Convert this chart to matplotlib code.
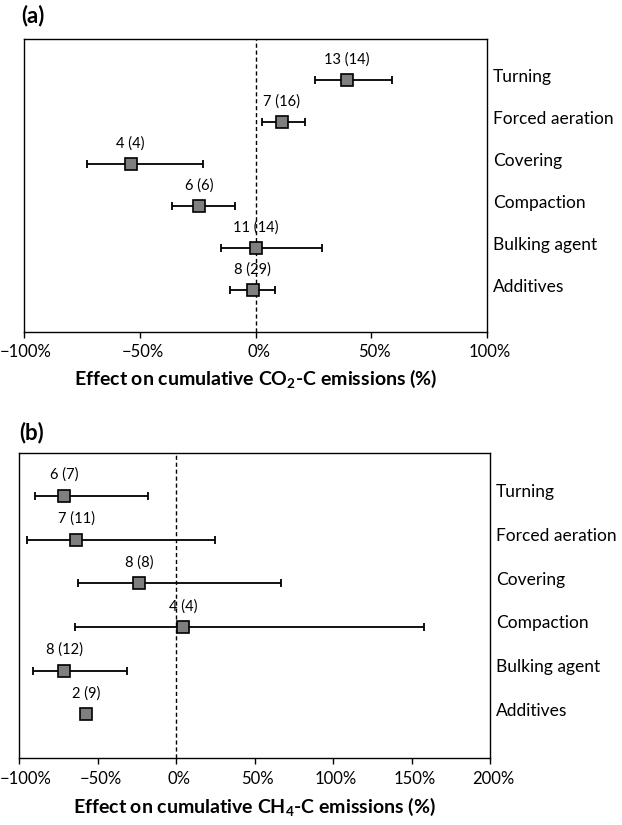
import numpy as np
import matplotlib.pyplot as plt
import matplotlib.transforms as mtransforms

plt.rcParams['font.family'] = ['Lato', 'DejaVu Sans']
plt.rcParams['mathtext.fontset'] = 'custom'
plt.rcParams['mathtext.rm'] = 'Lato'
plt.rcParams['mathtext.bf'] = 'Lato:bold'

cats = ['Turning', 'Forced aeration', 'Covering', 'Compaction', 'Bulking agent', 'Additives']

# panel (a) CO2-C
co2_mean = [39.6, 11.3, -53.9, -24.5, 0.0, -1.2]
co2_lo = [25.5, 2.7, -72.6, -36.0, -15.1, -11.1]
co2_hi = [58.9, 21.2, -22.8, -8.7, 28.8, 8.4]
co2_n = ['13 (14)', '7 (16)', '4 (4)', '6 (6)', '11 (14)', '8 (29)']

# panel (b) CH4-C
ch4_mean = [-71.3, -63.4, -23.6, 4.7, -71.1, -57.3]
ch4_lo = [-89.6, -95.0, -62.4, -64.5, -91.3, np.nan]
ch4_hi = [-17.9, 24.7, 66.8, 157.9, -31.3, np.nan]
ch4_n = ['6 (7)', '7 (11)', '8 (8)', '4 (4)', '8 (12)', '2 (9)']


def panel(ax, mean, lo, hi, nlab, xlim, xticks, xlabel, lab_y, first_shift):
    mean = np.array(mean)
    lo = np.array(lo)
    hi = np.array(hi)
    y = np.arange(len(cats), 0, -1)
    ok = ~np.isnan(lo)
    ax.axvline(0, color='black', ls=(0, (3, 2)), lw=1, zorder=1)
    ax.errorbar(mean[ok], y[ok], xerr=[mean[ok] - lo[ok], hi[ok] - mean[ok]],
                fmt='none', ecolor='black', elinewidth=1.3, capsize=3, capthick=1.3, zorder=2)
    ax.plot(mean, y, 's', ms=8, mfc='#7f7f7f', mec='black', mew=1.2, zorder=3)
    for m, yy, t in zip(mean, y, nlab):
        ax.annotate(t, (m, yy), xytext=(0, 15), textcoords='offset points',
                    ha='center', va='center', fontsize=10.5)
    trans = mtransforms.blended_transform_factory(ax.transAxes, ax.transData)
    for yy, c in zip(y, cats):
        ax.text(1.013, yy + 0.08, c, transform=trans, ha='left', va='center', fontsize=12.5)
    ax.set_xlim(xlim)
    ax.set_ylim(0.0, 6.98)
    ax.set_xticks(xticks)
    ax.set_xticklabels([f'{v:d}%'.replace('-', '\u2212') for v in xticks], fontsize=12)
    ax.set_yticks([])
    ax.tick_params(axis='x', direction='out', length=4, width=1, pad=5)
    # labels sit a few pixels right of their ticks, as in the original
    for i, lbl in enumerate(ax.get_xticklabels()):
        dx = first_shift if i == 0 else 3
        lbl.set_transform(lbl.get_transform() +
                          mtransforms.ScaledTranslation(dx / 100, 0, fig.dpi_scale_trans))
    for s in ax.spines.values():
        s.set_linewidth(1)
    ax.set_xlabel(xlabel, fontsize=14, fontweight='bold', va='center')
    ax.xaxis.set_label_coords(0.5, lab_y)


fig = plt.figure(figsize=(6.22, 8.25), dpi=100)
ax1 = fig.add_axes([24 / 622, 1 - 332 / 825, 463 / 622, 293 / 825])
ax2 = fig.add_axes([19 / 622, 1 - 758 / 825, 471 / 622, 305 / 825])

panel(ax1, co2_mean, co2_lo, co2_hi, co2_n, (-100, 100), [-100, -50, 0, 50, 100],
      r'Effect on cumulative CO$_\mathbf{2}$-C emissions (%)', -47 / 293, 2)
panel(ax2, ch4_mean, ch4_lo, ch4_hi, ch4_n, (-100, 200), [-100, -50, 0, 50, 100, 150, 200],
      r'Effect on cumulative CH$_\mathbf{4}$-C emissions (%)', -49 / 305, 7)

fig.text(21 / 622, 1 - 16 / 825, '(a)', fontsize=16, fontweight='bold', ha='left', va='center')
fig.text(19 / 622, 1 - 433 / 825, '(b)', fontsize=16, fontweight='bold', ha='left', va='center')

fig.savefig('out.png', dpi=100)
